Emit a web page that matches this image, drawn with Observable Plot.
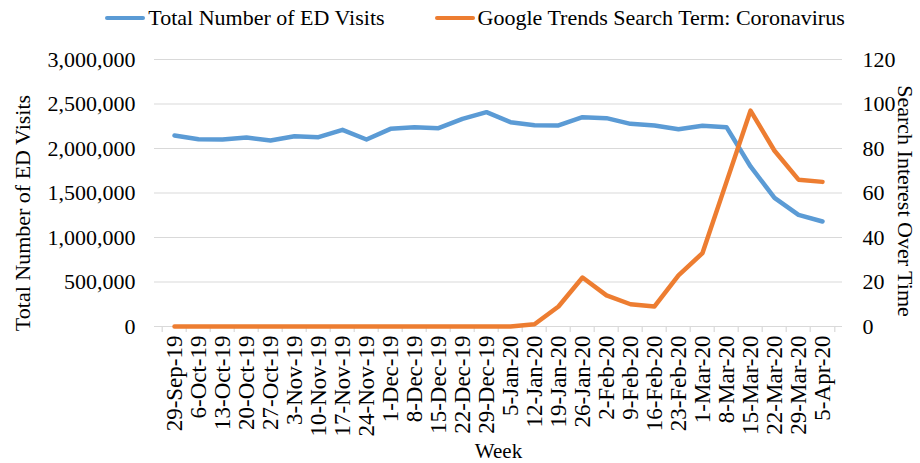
<!DOCTYPE html>
<html><head><meta charset="utf-8">
<script src="https://cdn.jsdelivr.net/npm/d3@7"></script>
<script src="https://cdn.jsdelivr.net/npm/@observablehq/plot@0.6"></script>
<style>
body{margin:0;background:#fff;font-family:"Liberation Serif","Times New Roman",serif;}
#legend{height:36px;width:920px;display:flex;justify-content:center;align-items:center;font-size:22px;color:#000;padding-left:30px;box-sizing:border-box}
.item{display:flex;align-items:center;margin:0 25px}
.sw{width:40px;height:4px;margin-right:3px;border-radius:2px}
</style></head><body>
<div id="legend"></div><div id="chart"></div>
<script>
const weeks = ["29-Sep-19","6-Oct-19","13-Oct-19","20-Oct-19","27-Oct-19","3-Nov-19","10-Nov-19","17-Nov-19","24-Nov-19","1-Dec-19","8-Dec-19","15-Dec-19","22-Dec-19","29-Dec-19","5-Jan-20","12-Jan-20","19-Jan-20","26-Jan-20","2-Feb-20","9-Feb-20","16-Feb-20","23-Feb-20","1-Mar-20","8-Mar-20","15-Mar-20","22-Mar-20","29-Mar-20","5-Apr-20"];
const edVisits = [2146000,2104000,2101000,2124000,2090000,2138000,2127000,2210000,2101000,2221000,2240000,2228000,2333000,2408000,2296000,2262000,2259000,2352000,2341000,2277000,2259000,2217000,2255000,2240000,1798000,1446000,1255000,1180000];
const searchInterest = [0,0,0,0,0,0,0,0,0,0,0,0,0,0,0,1,9,22,14,10,9,23,33,65,97,79,66,65];
const leftTicks = [0,500000,1000000,1500000,2000000,2500000,3000000];
const rightTicks = [0,20,40,60,80,100,120];
const seriesNames = ["Total Number of ED Visits","Google Trends Search Term: Coronavirus"];
const colors = ["#5B9BD5","#ED7D31"];

const leftMax = 3000000, rightMax = 120, ratio = leftMax / rightMax;
const data = weeks.map((w,i)=>({week:w, visits:edVisits[i], search:searchInterest[i]*ratio}));

const W = 920, H = 427, mL = 154, mR = 78, mT = 23, mB = 137;
const step = (W - mL - mR) / weeks.length;

const legend = document.getElementById("legend");
seriesNames.forEach((n,i)=>{
  const it = document.createElement("div"); it.className="item";
  const sw = document.createElement("div"); sw.className="sw"; sw.style.background = colors[i];
  const t = document.createElement("span"); t.textContent = n;
  it.appendChild(sw); it.appendChild(t); legend.appendChild(it);
});

const chart = Plot.plot({
  width: W, height: H,
  marginLeft: mL, marginRight: mR, marginTop: mT, marginBottom: mB,
  style: {fontFamily: '"Liberation Serif","Times New Roman",serif', fontSize: "22px", color: "#000", background: "#fff", overflow: "visible"},
  x: {type: "point", domain: weeks, padding: 0.5, label: null},
  y: {domain: [0, leftMax], label: null},
  marks: [
    Plot.gridY(leftTicks, {stroke: "#d9d9d9", strokeOpacity: 1, strokeWidth: 1.2}),
    Plot.ruleX(weeks, {x: d=>d, y1: 0, y2: 0, insetBottom: -6, dx: -step/2, stroke: "#d9d9d9", strokeWidth: 1.2}),
    Plot.ruleX(weeks.slice(-1), {x: d=>d, y1: 0, y2: 0, insetBottom: -6, dx: step/2, stroke: "#d9d9d9", strokeWidth: 1.2}),
    Plot.axisY({anchor: "left", ticks: leftTicks, tickSize: 0, tickPadding: 19, tickFormat: d3.format(","), label: null}),
    Plot.axisY({anchor: "right", ticks: rightTicks.map(v=>v*ratio), tickSize: 0, tickPadding: 20, tickFormat: d=>String(Math.round(d/ratio)), label: null}),
    Plot.axisX({tickRotate: -90, tickSize: 0, tickPadding: 9, fontSize: 23, label: null}),
    Plot.line(data, {x: "week", y: "visits", stroke: colors[0], strokeWidth: 4.5, strokeLinejoin: "round"}),
    Plot.line(data, {x: "week", y: "search", stroke: colors[1], strokeWidth: 4.5, strokeLinejoin: "round"}),
    Plot.text(["Total Number of ED Visits"], {frameAnchor: "left", textAnchor: "middle", lineAnchor: "middle", rotate: -90, dx: -132, dy: 20, fontSize: 22}),
    Plot.text(["Search Interest Over Time"], {frameAnchor: "right", textAnchor: "middle", lineAnchor: "middle", rotate: 90, dx: 63, dy: 8, fontSize: 22}),
    Plot.text(["Week"], {frameAnchor: "bottom", textAnchor: "middle", lineAnchor: "middle", dy: 125, fontSize: 21})
  ]
});
document.getElementById("chart").appendChild(chart);
</script>
</body></html>
